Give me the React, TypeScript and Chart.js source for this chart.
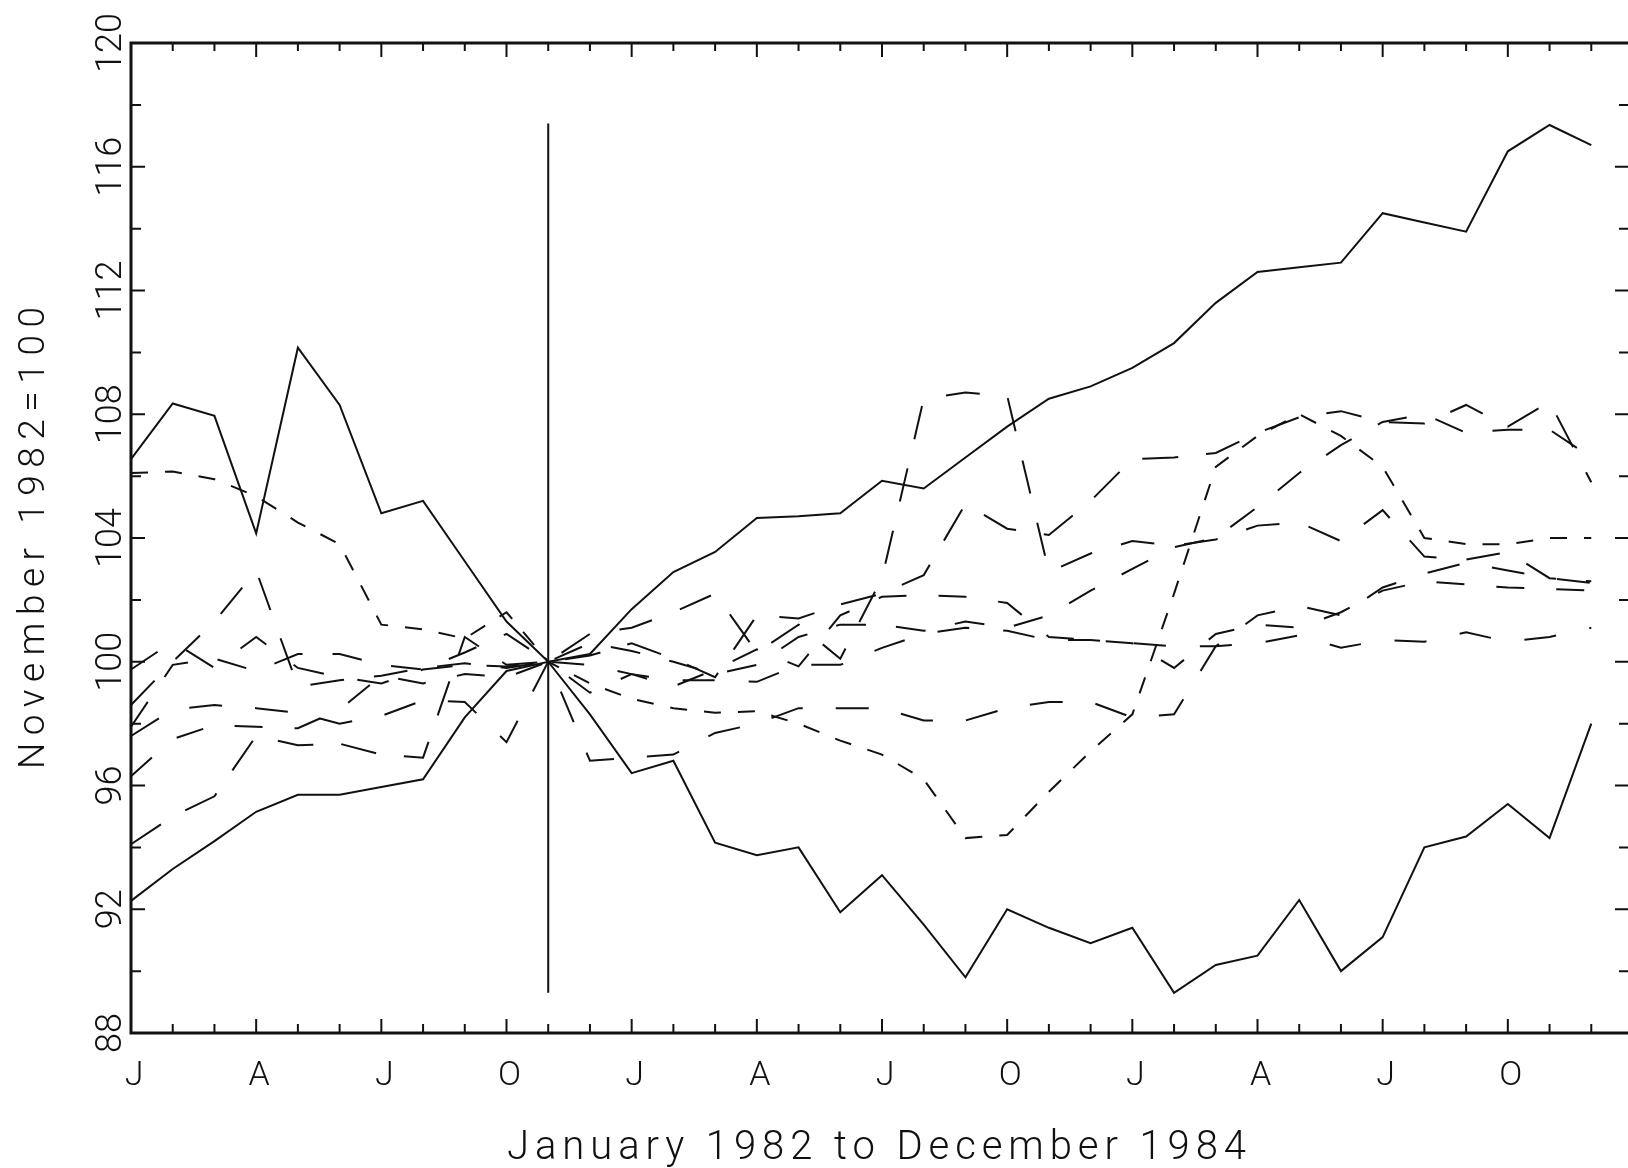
import React, { useEffect, useRef } from 'react';
import { Chart, registerables } from 'chart.js';

Chart.register(...registerables);

// ---- categories: January 1982 .. December 1984 (plus the closing edge, January 1985) ----
const MONTHS = [
  'Jan 1982', 'Feb 1982', 'Mar 1982', 'Apr 1982', 'May 1982', 'Jun 1982',
  'Jul 1982', 'Aug 1982', 'Sep 1982', 'Oct 1982', 'Nov 1982', 'Dec 1982',
  'Jan 1983', 'Feb 1983', 'Mar 1983', 'Apr 1983', 'May 1983', 'Jun 1983',
  'Jul 1983', 'Aug 1983', 'Sep 1983', 'Oct 1983', 'Nov 1983', 'Dec 1983',
  'Jan 1984', 'Feb 1984', 'Mar 1984', 'Apr 1984', 'May 1984', 'Jun 1984',
  'Jul 1984', 'Aug 1984', 'Sep 1984', 'Oct 1984', 'Nov 1984', 'Dec 1984',
  'Jan 1985',
];
const QUARTER_LETTERS = ['J', 'A', 'J', 'O'];
const LAST_LABELLED_MONTH = 33;
const BASE_MONTH = 'Nov 1982';

// ---- y axis ----
const Y_MIN = 88;
const Y_MAX = 120;
const Y_TICK_LABELS = [88, 92, 96, 100, 104, 108, 112, 116, 120];
const Y_MINOR_STEP = 2;

// ---- base-month marker (vertical line) ----
const BASE_LINE_RANGE = [89.3, 117.4];

// ---- series values (index, November 1982 = 100) ----
const SOLID_UPPER = [
  106.55, 108.35, 107.95, 104.15, 110.15, 108.3, 104.8, 105.2, 103.25, 101.3,
  100, 100.25, 101.7, 102.9, 103.55, 104.65, 104.7, 104.8, 105.85, 105.6,
  106.6, 107.6, 108.5, 108.9, 109.5, 110.3, 111.6, 112.6, 112.75, 112.9,
  114.5, 114.2, 113.9, 116.5, 117.35, 116.7,
];
const SOLID_LOWER = [
  92.27, 93.3, 94.2, 95.15, 95.7, 95.7, 95.95, 96.2, 98.2, 99.7,
  100, 98.3, 96.4, 96.8, 94.15, 93.75, 94.0, 91.9, 93.1, 91.5,
  89.8, 92.0, 91.4, 90.9, 91.4, 89.3, 90.2, 90.5, 92.3, 90.0,
  91.1, 94.0, 94.35, 95.4, 94.3, 98.0,
];
const DASHED_1 = [
  106.1, 106.15, 105.9, 105.35, 104.5, 103.8, 101.2, 101.05, 100.75, 101.6,
  100, 99.3, 98.8, 98.5, 98.35, 98.4, 98.0, 97.45, 97.0, 96.2,
  94.3, 94.4, 95.8, 97.1, 98.3, 102.2, 106.3, 107.3, 108.0, 107.3,
  106.3, 104.0, 103.8, 103.8, 104.0, 104.0,
];
const DASHED_2 = [
  98.6, 100.0, 101.3, 102.95, 99.2, 99.4, 99.55, 99.8, 99.95, 99.8,
  100, 100.9, 101.1, 101.6, 102.2, 100.3, 101.2, 100.1, 102.7, 108.5,
  108.7, 108.6, 102.9, 103.5, 103.9, 103.75, 103.95, 104.4, 104.5, 103.9,
  104.9, 103.4, 103.3, 103.55, 102.7, 102.6,
];
const DASHED_3 = [
  99.75, 100.65, 99.8, 100.8, 99.8, 99.5, 99.3, 99.75, 99.9, 99.85,
  100, 99.9, 99.6, 99.4, 99.4, 99.35, 99.9, 99.9, 100.45, 100.9,
  101.1, 101.0, 100.7, 100.7, 100.6, 100.5, 100.5, 100.6, 100.85, 100.45,
  100.7, 100.65, 100.95, 100.65, 100.8, 101.1,
];
const DASHED_4 = [
  97.9, 99.9, 100.1, 99.7, 100.25, 100.25, 99.9, 99.75, 100.3, 100.9,
  100, 100.6, 100.35, 100.0, 99.6, 99.9, 100.8, 101.2, 101.2, 101.0,
  101.3, 101.1, 101.5, 102.3, 103.0, 103.7, 104.0, 105.0, 106.1, 107.0,
  107.75, 108.0, 107.4, 107.5, 107.5, 106.6,
];
const DASHED_5 = [
  97.6, 98.45, 98.6, 98.5, 98.35, 98.0, 98.25, 98.75, 98.7, 97.4,
  100, 96.8, 96.9, 97.0, 97.7, 98.0, 98.5, 98.5, 98.5, 98.1,
  98.1, 98.5, 98.7, 98.7, 98.2, 98.3, 100.5, 101.5, 101.8, 101.5,
  102.4, 102.85, 103.2, 102.95, 102.7, 102.55,
];
const DASHED_6 = [
  94.1, 95.0, 95.65, 97.6, 97.3, 97.35, 97.0, 96.9, 100.8, 99.9,
  100, 100.2, 100.6, 100.1, 99.5, 101.5, 101.4, 101.85, 102.2, 102.8,
  105.1, 104.3, 104.1, 105.2, 106.55, 106.6, 106.75, 107.4, 107.9, 108.1,
  107.75, 107.7, 108.3, 107.6, 108.4, 105.8,
];
const DASHED_7 = [
  96.3, 97.5, 97.95, 97.9, 97.85, 98.45, 99.55, 99.3, 99.6, 99.5,
  100, 99.0, 99.6, 99.2, 99.75, 100.4, 99.85, 101.5, 102.1, 102.15,
  102.1, 101.9, 100.8, 100.7, 100.6, 99.8, 100.9, 101.2, 101.1, 101.6,
  102.3, 102.6, 102.5, 102.4, 102.35, 102.3,
];

// ---- text ----
const X_TITLE = 'January 1982 to December 1984';
const Y_TITLE = 'November 1982=100';

const INK = '#111111';
const FONT = "'Roboto', 'DejaVu Sans', sans-serif";

const SERIES: { data: number[]; dash: number[] }[] = [
  { data: SOLID_UPPER, dash: [] },
  { data: SOLID_LOWER, dash: [] },
  { data: DASHED_1, dash: [17, 17] },
  { data: DASHED_2, dash: [34, 30] },
  { data: DASHED_3, dash: [32, 34] },
  { data: DASHED_4, dash: [30, 30] },
  { data: DASHED_5, dash: [33, 33] },
  { data: DASHED_6, dash: [36, 28] },
  { data: DASHED_7, dash: [28, 32] },
];

const CANVAS_W = 1636;
const CANVAS_H = 1168;

function fitText(ctx: CanvasRenderingContext2D, text: string, target: number) {
  (ctx as any).letterSpacing = '0px';
  const w0 = ctx.measureText(text).width;
  const ls = Math.max(0, (target - w0) / Math.max(1, text.length - 1));
  (ctx as any).letterSpacing = ls + 'px';
  return ls;
}

const scanAxes = {
  id: 'scanAxes',
  afterDatasetsDraw(chart: any) {
    const { ctx, chartArea: a, scales } = chart;
    const xs = scales.x;
    const ys = scales.y;
    ctx.save();
    ctx.strokeStyle = INK;
    ctx.fillStyle = INK;

    // frame
    ctx.lineWidth = 3;
    ctx.beginPath();
    ctx.rect(a.left, a.top, a.right - a.left, a.bottom - a.top);
    ctx.stroke();

    // inward ticks
    ctx.lineWidth = 2;
    ctx.beginPath();
    for (let i = 0; i < MONTHS.length; i++) {
      const x = xs.getPixelForValue(i);
      const major = i % 3 === 0;
      ctx.moveTo(x, a.bottom);
      ctx.lineTo(x, a.bottom - (major ? 14 : 9));
      ctx.moveTo(x, a.top);
      ctx.lineTo(x, a.top + (major ? 14 : 8));
    }
    for (let v = Y_MIN; v <= Y_MAX; v += Y_MINOR_STEP) {
      const y = ys.getPixelForValue(v);
      const major = Y_TICK_LABELS.includes(v);
      const l = major ? 14 : 10;
      ctx.moveTo(a.left, y);
      ctx.lineTo(a.left + l, y);
      ctx.moveTo(a.right, y);
      ctx.lineTo(a.right - l - 4, y);
    }
    ctx.stroke();

    // y tick labels (rotated)
    ctx.font = `300 36px ${FONT}`;
    ctx.textAlign = 'center';
    ctx.textBaseline = 'alphabetic';
    for (const v of Y_TICK_LABELS) {
      const y = ys.getPixelForValue(v);
      ctx.save();
      ctx.translate(a.left - 10, y);
      ctx.rotate(-Math.PI / 2);
      ctx.fillText(String(v), 0, 0);
      ctx.restore();
    }

    // x tick labels
    ctx.font = `300 34px ${FONT}`;
    for (let i = 0; i <= LAST_LABELLED_MONTH; i += 3) {
      const x = xs.getPixelForValue(i);
      ctx.fillText(QUARTER_LETTERS[(i / 3) % 4], x + 3, a.bottom + 52);
    }

    // x title
    ctx.font = `300 40px ${FONT}`;
    fitText(ctx, X_TITLE, 739);
    ctx.textAlign = 'left';
    ctx.fillText(X_TITLE, 507, a.bottom + 126);

    // y title
    ctx.font = `300 37px ${FONT}`;
    fitText(ctx, Y_TITLE, 462);
    ctx.save();
    ctx.translate(a.left - 87, (a.top + a.bottom) / 2);
    ctx.rotate(-Math.PI / 2);
    ctx.textAlign = 'left';
    ctx.fillText(Y_TITLE, -462 / 2, 0);
    ctx.restore();
    (ctx as any).letterSpacing = '0px';

    ctx.restore();
  },
};

export default function App() {
  const ref = useRef<HTMLCanvasElement | null>(null);

  useEffect(() => {
    document.body.style.overflow = 'hidden';
    const canvas = ref.current;
    if (!canvas) return;

    const datasets: any[] = SERIES.map((s) => ({
      data: s.data,
      borderColor: INK,
      borderWidth: 2,
      borderDash: s.dash,
      pointRadius: 0,
      tension: 0,
      fill: false,
    }));
    datasets.push({
      data: [
        { x: BASE_MONTH, y: BASE_LINE_RANGE[0] },
        { x: BASE_MONTH, y: BASE_LINE_RANGE[1] },
      ],
      borderColor: INK,
      borderWidth: 2,
      pointRadius: 0,
      tension: 0,
      fill: false,
    });

    const chart = new Chart(canvas, {
      type: 'line',
      data: { labels: MONTHS, datasets },
      options: {
        animation: false,
        responsive: false,
        devicePixelRatio: 1,
        events: [],
        layout: { padding: { left: 131, right: 3, top: 43, bottom: 135 } },
        plugins: { legend: { display: false }, tooltip: { enabled: false } },
        scales: {
          x: { type: 'category', display: false, offset: false },
          y: { type: 'linear', display: false, min: Y_MIN, max: Y_MAX },
        },
      },
      plugins: [scanAxes],
    });

    return () => chart.destroy();
  }, []);

  return (
    <div style={{ position: 'fixed', left: 0, top: 0, width: CANVAS_W, height: CANVAS_H, background: '#fff' }}>
      <canvas ref={ref} width={CANVAS_W} height={CANVAS_H} style={{ display: 'block', width: CANVAS_W, height: CANVAS_H }} />
    </div>
  );
}
